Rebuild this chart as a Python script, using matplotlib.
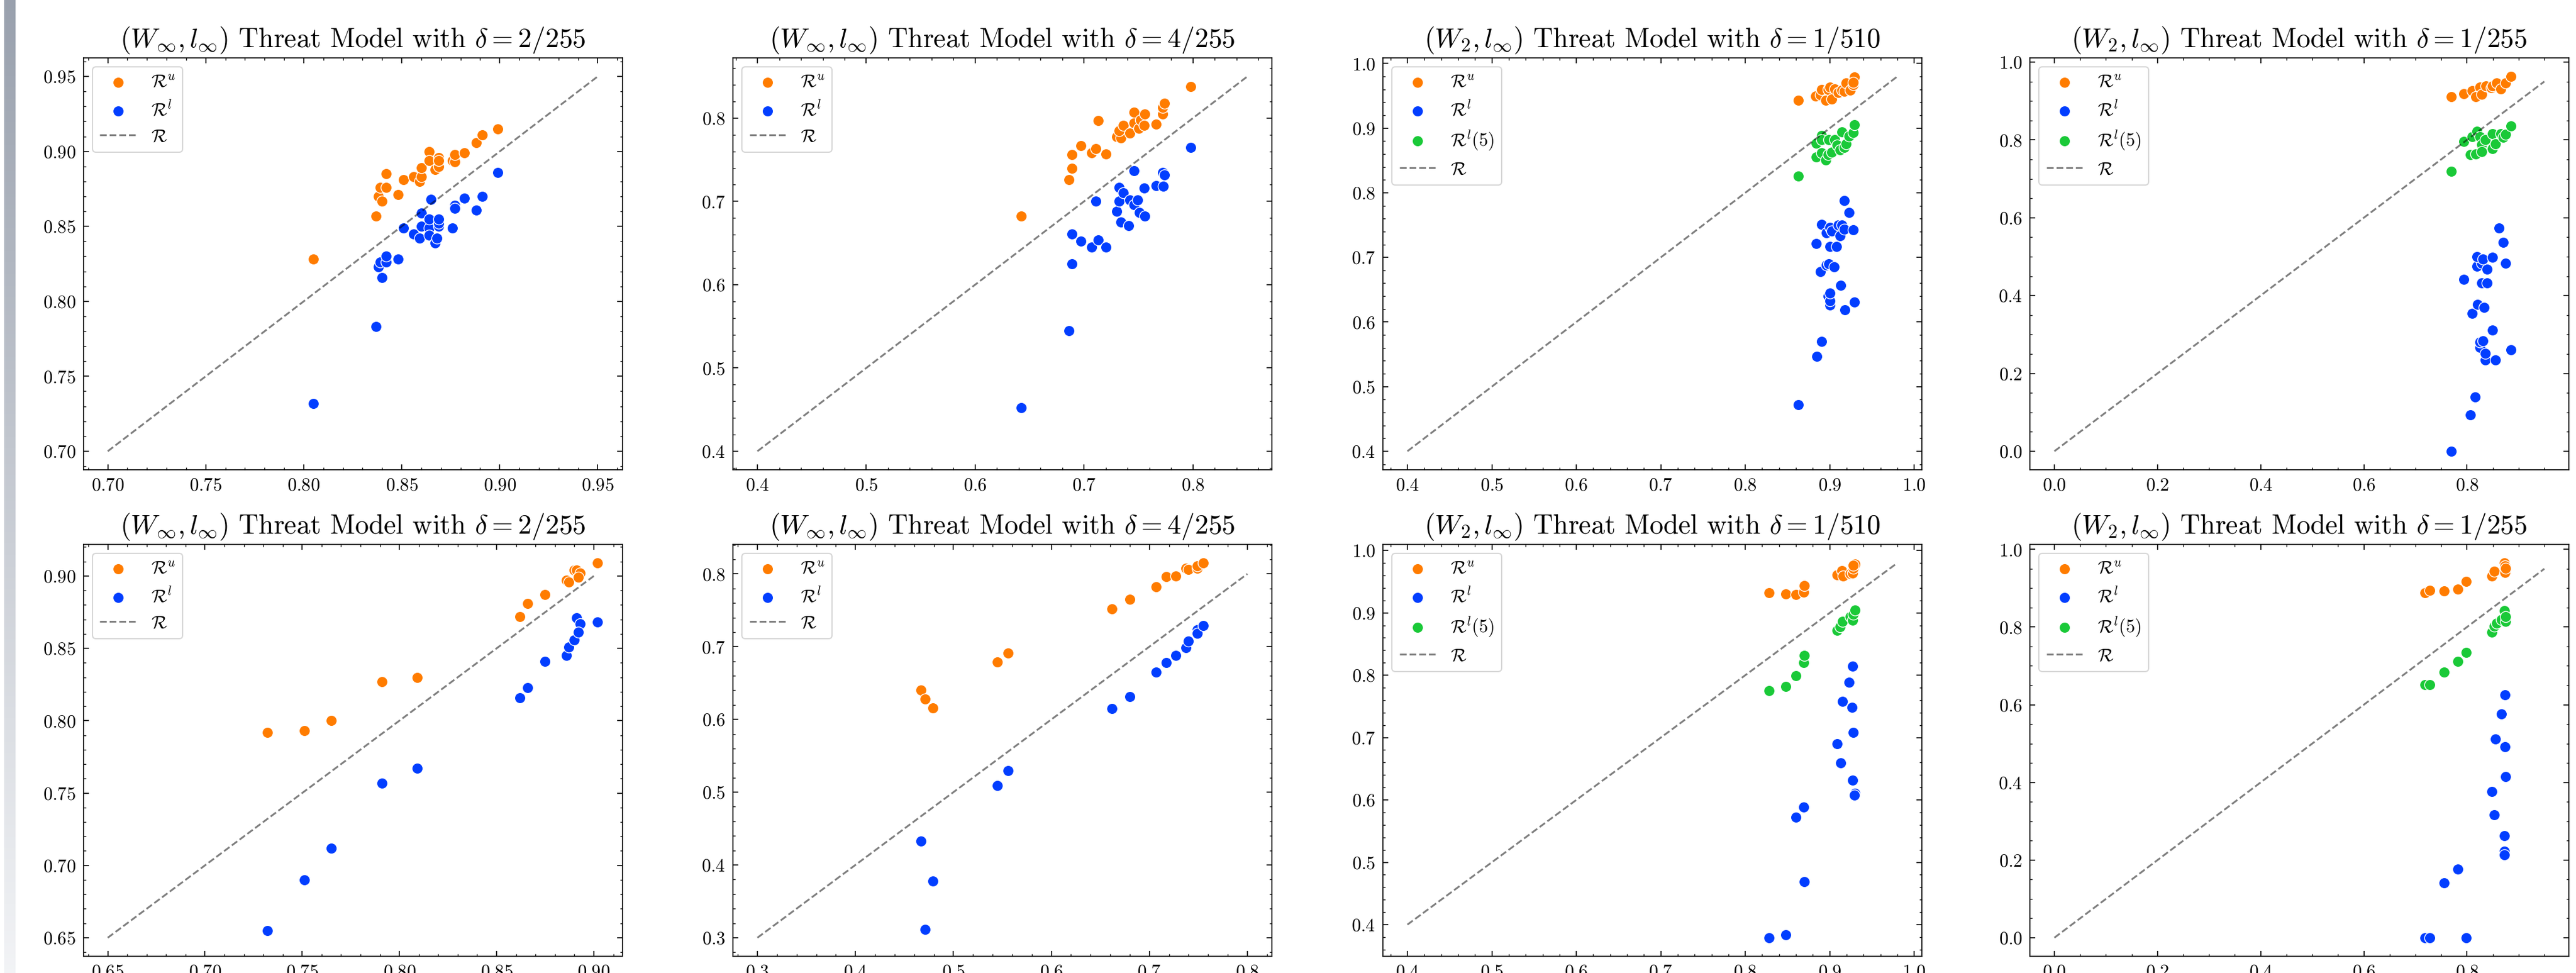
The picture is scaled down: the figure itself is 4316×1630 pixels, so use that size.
import numpy as np
import matplotlib
matplotlib.use('Agg')
import matplotlib.pyplot as plt

# ---- data (x = R, y = bound) ----
# top row, panel 1: (W_inf, l_inf), delta = 2/255
a_xu = [0.805, 0.837, 0.838, 0.840, 0.839, 0.842, 0.842, 0.848, 0.851, 0.856, 0.859, 0.860, 0.860,
        0.864, 0.864, 0.867, 0.869, 0.869, 0.869, 0.876, 0.877, 0.877, 0.882, 0.888, 0.891, 0.899]
a_u = [0.828, 0.857, 0.870, 0.867, 0.876, 0.876, 0.885, 0.871, 0.881, 0.883, 0.880, 0.883, 0.889,
       0.900, 0.894, 0.888, 0.896, 0.890, 0.894, 0.894, 0.893, 0.898, 0.899, 0.906, 0.911, 0.915]
a_xl = [0.805, 0.837, 0.840, 0.838, 0.839, 0.842, 0.842, 0.848, 0.851, 0.856, 0.859, 0.860, 0.860, 0.864, 0.864,
        0.864, 0.865, 0.867, 0.868, 0.869, 0.869, 0.869, 0.876, 0.877, 0.877, 0.882, 0.888, 0.891, 0.899]
a_l = [0.732, 0.783, 0.816, 0.823, 0.826, 0.826, 0.830, 0.828, 0.849, 0.845, 0.842, 0.850, 0.859, 0.849, 0.844,
       0.855, 0.868, 0.839, 0.842, 0.850, 0.852, 0.855, 0.849, 0.864, 0.862, 0.869, 0.861, 0.870, 0.886]

# top row, panel 2: (W_inf, l_inf), delta = 4/255
b_xu = [0.642, 0.686, 0.689, 0.689, 0.697, 0.707, 0.711, 0.713, 0.720, 0.730, 0.734, 0.732, 0.736,
        0.742, 0.746, 0.746, 0.750, 0.752, 0.755, 0.756, 0.766, 0.772, 0.772, 0.774, 0.798]
b_u = [0.682, 0.726, 0.740, 0.756, 0.767, 0.758, 0.763, 0.797, 0.757, 0.778, 0.776, 0.785, 0.791,
       0.782, 0.794, 0.807, 0.788, 0.798, 0.791, 0.805, 0.793, 0.805, 0.813, 0.818, 0.838]
b_xl = [0.642, 0.686, 0.689, 0.689, 0.697, 0.707, 0.711, 0.713, 0.720, 0.730, 0.732, 0.732, 0.734, 0.736,
        0.741, 0.742, 0.746, 0.746, 0.749, 0.751, 0.755, 0.756, 0.766, 0.772, 0.773, 0.774, 0.798]
b_l = [0.452, 0.545, 0.625, 0.661, 0.652, 0.645, 0.700, 0.654, 0.645, 0.688, 0.717, 0.700, 0.675, 0.710,
       0.671, 0.702, 0.737, 0.696, 0.702, 0.687, 0.716, 0.682, 0.719, 0.735, 0.718, 0.732, 0.765]

# top row, panel 3: (W_2, l_inf), delta = 1/510
c_xu = [0.863, 0.883, 0.889, 0.890, 0.895, 0.898, 0.900, 0.902, 0.906, 0.910, 0.914, 0.917, 0.919,
        0.924, 0.928, 0.929, 0.928]
c_u = [0.943, 0.950, 0.951, 0.960, 0.943, 0.960, 0.963, 0.945, 0.961, 0.955, 0.959, 0.957, 0.970,
       0.959, 0.967, 0.979, 0.971]
c_x5 = [0.863, 0.884, 0.884, 0.890, 0.890, 0.890, 0.895, 0.898, 0.899, 0.902, 0.906, 0.909, 0.912,
        0.914, 0.917, 0.919, 0.923, 0.928, 0.929]
c_l5 = [0.826, 0.855, 0.877, 0.889, 0.862, 0.882, 0.851, 0.859, 0.882, 0.863, 0.882, 0.874, 0.866,
        0.894, 0.870, 0.876, 0.888, 0.893, 0.905]
c_xl = [0.863, 0.885, 0.890, 0.889, 0.896, 0.899, 0.905, 0.898, 0.900, 0.900, 0.900, 0.913, 0.918, 0.929,
        0.900, 0.908, 0.884, 0.890, 0.896, 0.900, 0.902, 0.910, 0.914, 0.912, 0.917, 0.928, 0.917, 0.923]
c_l = [0.472, 0.547, 0.570, 0.678, 0.688, 0.690, 0.685, 0.640, 0.626, 0.633, 0.645, 0.657, 0.619, 0.631,
       0.717, 0.717, 0.721, 0.751, 0.738, 0.746, 0.741, 0.750, 0.750, 0.733, 0.744, 0.743, 0.788, 0.769]

# top row, panel 4: (W_2, l_inf), delta = 1/255
d_xu = [0.770, 0.794, 0.810, 0.817, 0.825, 0.829, 0.837, 0.847, 0.849, 0.857, 0.865, 0.875, 0.885]
d_u = [0.911, 0.919, 0.927, 0.911, 0.935, 0.917, 0.939, 0.934, 0.939, 0.947, 0.931, 0.947, 0.963]
d_x5 = [0.770, 0.794, 0.806, 0.810, 0.817, 0.819, 0.825, 0.828, 0.829, 0.836, 0.849, 0.849, 0.855,
        0.865, 0.870, 0.875, 0.885]
d_l5 = [0.719, 0.796, 0.762, 0.808, 0.764, 0.822, 0.808, 0.788, 0.770, 0.800, 0.816, 0.778, 0.790,
        0.816, 0.806, 0.814, 0.836]
d_xl = [0.770, 0.806, 0.816, 0.836, 0.855, 0.825, 0.825, 0.831, 0.836, 0.885, 0.849, 0.810, 0.821,
        0.833, 0.794, 0.828, 0.839, 0.819, 0.829, 0.839, 0.819, 0.831, 0.849, 0.875, 0.870, 0.862]
d_l = [0.000, 0.093, 0.139, 0.235, 0.235, 0.267, 0.280, 0.284, 0.252, 0.260, 0.312, 0.354, 0.377,
       0.369, 0.442, 0.432, 0.432, 0.476, 0.483, 0.467, 0.500, 0.494, 0.498, 0.483, 0.536, 0.573]

# bottom row, panel 1: (W_inf, l_inf), delta = 2/255
e_x = [0.732, 0.751, 0.765, 0.791, 0.809, 0.862, 0.866, 0.875, 0.886, 0.887, 0.890, 0.891, 0.893, 0.892, 0.902]
e_u = [0.792, 0.793, 0.800, 0.827, 0.830, 0.872, 0.881, 0.887, 0.897, 0.896, 0.904, 0.904, 0.902, 0.899, 0.909]
e_l = [0.655, 0.690, 0.712, 0.757, 0.767, 0.816, 0.823, 0.841, 0.845, 0.851, 0.856, 0.871, 0.867, 0.861, 0.868]

# bottom row, panel 2: (W_inf, l_inf), delta = 4/255
f_x = [0.467, 0.471, 0.479, 0.545, 0.556, 0.662, 0.680, 0.707, 0.717, 0.727, 0.737, 0.740, 0.749, 0.749, 0.755]
f_u = [0.640, 0.628, 0.616, 0.679, 0.691, 0.752, 0.765, 0.782, 0.796, 0.797, 0.808, 0.806, 0.808, 0.811, 0.815]
f_l = [0.433, 0.311, 0.378, 0.509, 0.530, 0.615, 0.631, 0.665, 0.678, 0.688, 0.699, 0.708, 0.723, 0.718, 0.729]

# bottom row, panel 3: (W_2, l_inf), delta = 1/510
g_xu = [0.828, 0.848, 0.860, 0.869, 0.870, 0.909, 0.914, 0.916, 0.924, 0.927, 0.928, 0.930, 0.928]
g_u = [0.932, 0.930, 0.929, 0.933, 0.944, 0.961, 0.968, 0.959, 0.963, 0.964, 0.971, 0.978, 0.976]
g_x5 = [0.828, 0.848, 0.860, 0.869, 0.870, 0.909, 0.912, 0.915, 0.924, 0.927, 0.928, 0.930]
g_l5 = [0.775, 0.782, 0.799, 0.820, 0.832, 0.872, 0.878, 0.886, 0.894, 0.888, 0.898, 0.904]
g_xl = [0.828, 0.848, 0.860, 0.869, 0.870, 0.909, 0.913, 0.915, 0.923, 0.926, 0.927, 0.928, 0.927, 0.930, 0.929]
g_l = [0.379, 0.384, 0.572, 0.589, 0.469, 0.690, 0.659, 0.758, 0.789, 0.748, 0.814, 0.708, 0.632, 0.611, 0.608]

# bottom row, panel 4: (W_2, l_inf), delta = 1/255
h_xu = [0.719, 0.728, 0.756, 0.782, 0.799, 0.848, 0.853, 0.873, 0.874, 0.874, 0.875]
h_u = [0.889, 0.895, 0.893, 0.897, 0.917, 0.932, 0.944, 0.965, 0.957, 0.941, 0.952]
h_x5 = [0.719, 0.728, 0.756, 0.782, 0.799, 0.848, 0.853, 0.857, 0.867, 0.873, 0.875, 0.875]
h_l5 = [0.652, 0.652, 0.684, 0.712, 0.734, 0.787, 0.802, 0.810, 0.819, 0.842, 0.814, 0.827]
h_xl = [0.719, 0.728, 0.799, 0.756, 0.782, 0.848, 0.853, 0.855, 0.867, 0.874, 0.874, 0.875, 0.873, 0.873, 0.873]
h_l = [0.000, 0.000, 0.000, 0.142, 0.177, 0.377, 0.317, 0.512, 0.576, 0.626, 0.492, 0.415, 0.262, 0.223, 0.214]

# endpoints of the dashed y = x reference line
diag = [(0.70, 0.95), (0.40, 0.85), (0.40, 0.98), (0.0, 0.95),
        (0.65, 0.90), (0.30, 0.80), (0.40, 0.98), (0.0, 0.95)]

titles = [r'$(W_\infty, l_\infty)$ Threat Model with $\delta = 2/255$',
          r'$(W_\infty, l_\infty)$ Threat Model with $\delta = 4/255$',
          r'$(W_2, l_\infty)$ Threat Model with $\delta = 1/510$',
          r'$(W_2, l_\infty)$ Threat Model with $\delta = 1/255$'] * 2

# (x_u, u, x_l, l, x_l5, l5)
panels = [
    (a_xu, a_u, a_xl, a_l, None, None),
    (b_xu, b_u, b_xl, b_l, None, None),
    (c_xu, c_u, c_xl, c_l, c_x5, c_l5),
    (d_xu, d_u, d_xl, d_l, d_x5, d_l5),
    (e_x, e_u, e_x, e_l, None, None),
    (f_x, f_u, f_x, f_l, None, None),
    (g_xu, g_u, g_xl, g_l, g_x5, g_l5),
    (h_xu, h_u, h_xl, h_l, h_x5, h_l5),
]

ORANGE, BLUE, GREEN = '#ff7c00', '#023eff', '#1ac938'

plt.rcParams.update({
    'font.family': 'serif',
    'font.serif': ['cmr10'],
    'mathtext.fontset': 'cm',
    'axes.formatter.use_mathtext': True,
    'axes.unicode_minus': False,
    'axes.linewidth': 1.2,
    'xtick.direction': 'in', 'ytick.direction': 'in',
    'xtick.top': True, 'ytick.right': True,
    'xtick.minor.visible': True, 'ytick.minor.visible': True,
    'xtick.major.size': 6.5, 'ytick.major.size': 6.5,
    'xtick.minor.size': 3.0, 'ytick.minor.size': 3.0,
    'xtick.major.width': 1.2, 'ytick.major.width': 1.2,
    'xtick.minor.width': 1.0, 'ytick.minor.width': 1.0,
    'xtick.major.pad': 9, 'ytick.major.pad': 9,
    'xtick.labelsize': 22, 'ytick.labelsize': 22,
    'legend.fontsize': 22,
    'axes.titlesize': 33,
})

W, H = 4316, 1630
fig = plt.figure(figsize=(W / 100, H / 100), dpi=100)

# faint screenshot strip on the left edge
sax = fig.add_axes([7 / W, 0, 19 / W, 1])
grad = np.linspace([0.60, 0.63, 0.68], [0.95, 0.955, 0.965], 256)[:, None, :]
sax.imshow(grad, aspect='auto')
sax.axis('off')

lefts = [139.5, 1228, 2317, 3401]
tops = [96.7, 911.7]
aw, ah = 903, 690.6

for i, (xu, u, xl, l, x5, l5) in enumerate(panels):
    r, c = divmod(i, 4)
    ax = fig.add_axes([lefts[c] / W, 1 - (tops[r] + ah) / H, aw / W, ah / H])
    kw = dict(s=175, edgecolors='white', linewidths=1.0)
    ax.scatter(xu, u, color=ORANGE, label=r'$\mathcal{R}^u$', **kw)
    ax.scatter(xl, l, color=BLUE, label=r'$\mathcal{R}^l$', **kw)
    if x5 is not None:
        ax.scatter(x5, l5, color=GREEN, label=r'$\mathcal{R}^l(5)$', **kw)
    lo, hi = diag[i]
    ax.plot([lo, hi], [lo, hi], '--', color='k', alpha=0.5, lw=2.2, label=r'$\mathcal{R}$')
    ax.set_title(titles[i], pad=13)
    leg = ax.legend(loc='upper left')
    leg.get_frame().set_linewidth(1.5)

fig.savefig('out.png', dpi=100)
